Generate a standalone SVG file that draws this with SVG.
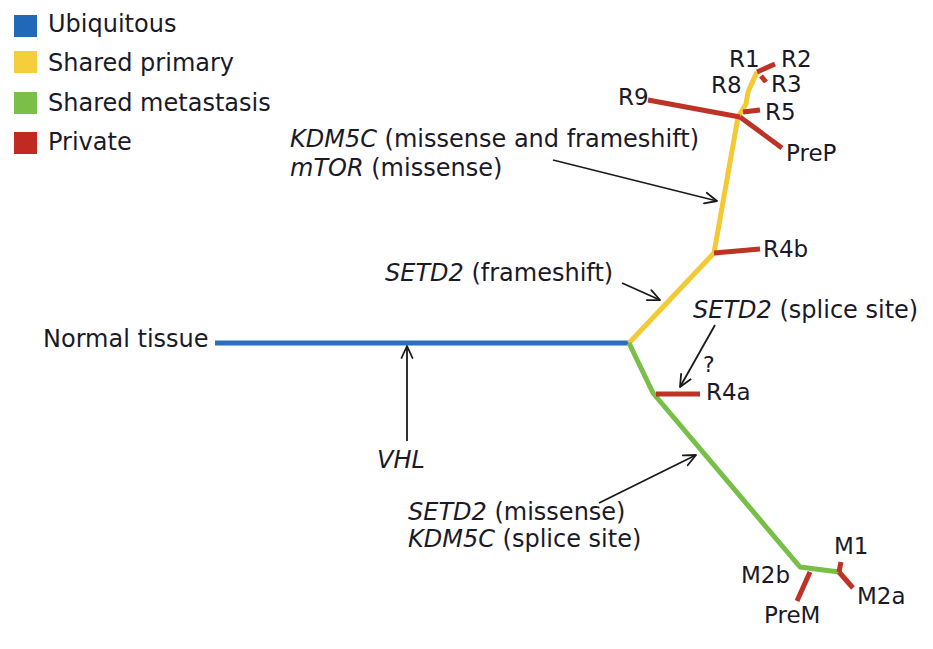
<svg xmlns="http://www.w3.org/2000/svg" width="933" height="649" viewBox="0 0 933 649">
<defs>
<marker id="arr" viewBox="0 0 14 14" markerWidth="14" markerHeight="14" refX="13" refY="7" orient="auto" markerUnits="userSpaceOnUse">
<path d="M1,1.5 L13,7 L1,12.5" fill="none" stroke="#1a1a1a" stroke-width="1.8" stroke-linecap="round" stroke-linejoin="round"/>
</marker>
<style>
text{font-family:"DejaVu Sans","Noto Sans",sans-serif;fill:#1a1a28;font-size:24px}
.leaf{font-size:23px}
.it{font-style:italic}
.br{fill:none;stroke-width:5;stroke-linejoin:round;stroke-linecap:butt}
.blue{stroke:#2b6fba}
.yel{stroke:#f3c935}
.grn{stroke:#77bf46}
.red{stroke:#bd3326}
.ann{fill:none;stroke:#1a1a1a;stroke-width:1.8;marker-end:url(#arr)}
</style>
</defs>
<rect width="933" height="649" fill="#ffffff"/>
<g id="legend">
<rect x="14" y="15" width="23" height="22" fill="#2168b8"/>
<text x="48" y="32">Ubiquitous</text>
<rect x="14" y="51" width="23" height="22" fill="#f6cd3a"/>
<text x="48" y="71">Shared primary</text>
<rect x="14" y="92" width="23" height="22" fill="#7cbf48"/>
<text x="48" y="111">Shared metastasis</text>
<rect x="14" y="132" width="23" height="22" fill="#c02a22"/>
<text x="48" y="150">Private</text>
</g>
<g id="connectors">
<path class="br blue" d="M215,343 L629,343"/>
<path class="br yel" d="M629,343 L714,253 L738,117 L746,104 L748,92 L757,72"/>
<path class="br grn" d="M629,343 L653,393 L800,567 L839,572"/>
<path class="br red" d="M648,100 L740,117"/>
<path class="br red" d="M740,117 L782,148"/>
<path class="br red" d="M743,112 L760,110"/>
<path class="br red" d="M757,72 L775,64"/>
<path class="br red" d="M761,76 L766,82"/>
<path class="br red" d="M714,253 L760,249"/>
<path class="br red" d="M656,394 L700,394"/>
<path class="br red" d="M841,562 L839,572"/>
<path class="br red" d="M839,572 L853,588"/>
<path class="br red" d="M810,572 L797,601"/>
<path class="ann" d="M407,441 L407,346"/>
<path class="ann" d="M553,160 L717,201"/>
<path class="ann" d="M622,283 L660,300"/>
<path class="ann" d="M715,325 L680,387"/>
<path class="ann" d="M599,503 L696,455"/>
</g>
<g id="node-normal"><text x="43" y="347">Normal tissue</text></g>
<g id="ann-vhl"><text x="377" y="468" class="it">VHL</text></g>
<g id="ann-kdm5c-mtor">
<text x="290" y="147"><tspan class="it">KDM5C</tspan> (missense and frameshift)</text>
<text x="290" y="176"><tspan class="it">mTOR</tspan> (missense)</text>
</g>
<g id="ann-setd2-fs"><text x="385" y="281"><tspan class="it">SETD2</tspan> (frameshift)</text></g>
<g id="ann-setd2-ss">
<text x="693" y="318"><tspan class="it">SETD2</tspan> (splice site)</text>
<text x="703" y="372" style="font-size:22px">?</text>
</g>
<g id="ann-setd2-kdm5c">
<text x="408" y="520"><tspan class="it">SETD2</tspan> (missense)</text>
<text x="408" y="547"><tspan class="it">KDM5C</tspan> (splice site)</text>
</g>
<g id="node-R1"><text class="leaf" x="729" y="67">R1</text></g>
<g id="node-R2"><text class="leaf" x="781" y="67">R2</text></g>
<g id="node-R8"><text class="leaf" x="711" y="93">R8</text></g>
<g id="node-R3"><text class="leaf" x="771" y="92">R3</text></g>
<g id="node-R5"><text class="leaf" x="765" y="120">R5</text></g>
<g id="node-R9"><text class="leaf" x="618" y="105">R9</text></g>
<g id="node-PreP"><text class="leaf" x="786" y="161">PreP</text></g>
<g id="node-R4b"><text class="leaf" x="763" y="257">R4b</text></g>
<g id="node-R4a"><text class="leaf" x="706" y="400">R4a</text></g>
<g id="node-M1"><text class="leaf" x="834" y="554">M1</text></g>
<g id="node-M2b"><text class="leaf" x="741" y="583">M2b</text></g>
<g id="node-M2a"><text class="leaf" x="857" y="604">M2a</text></g>
<g id="node-PreM"><text class="leaf" x="764" y="623">PreM</text></g>
</svg>
